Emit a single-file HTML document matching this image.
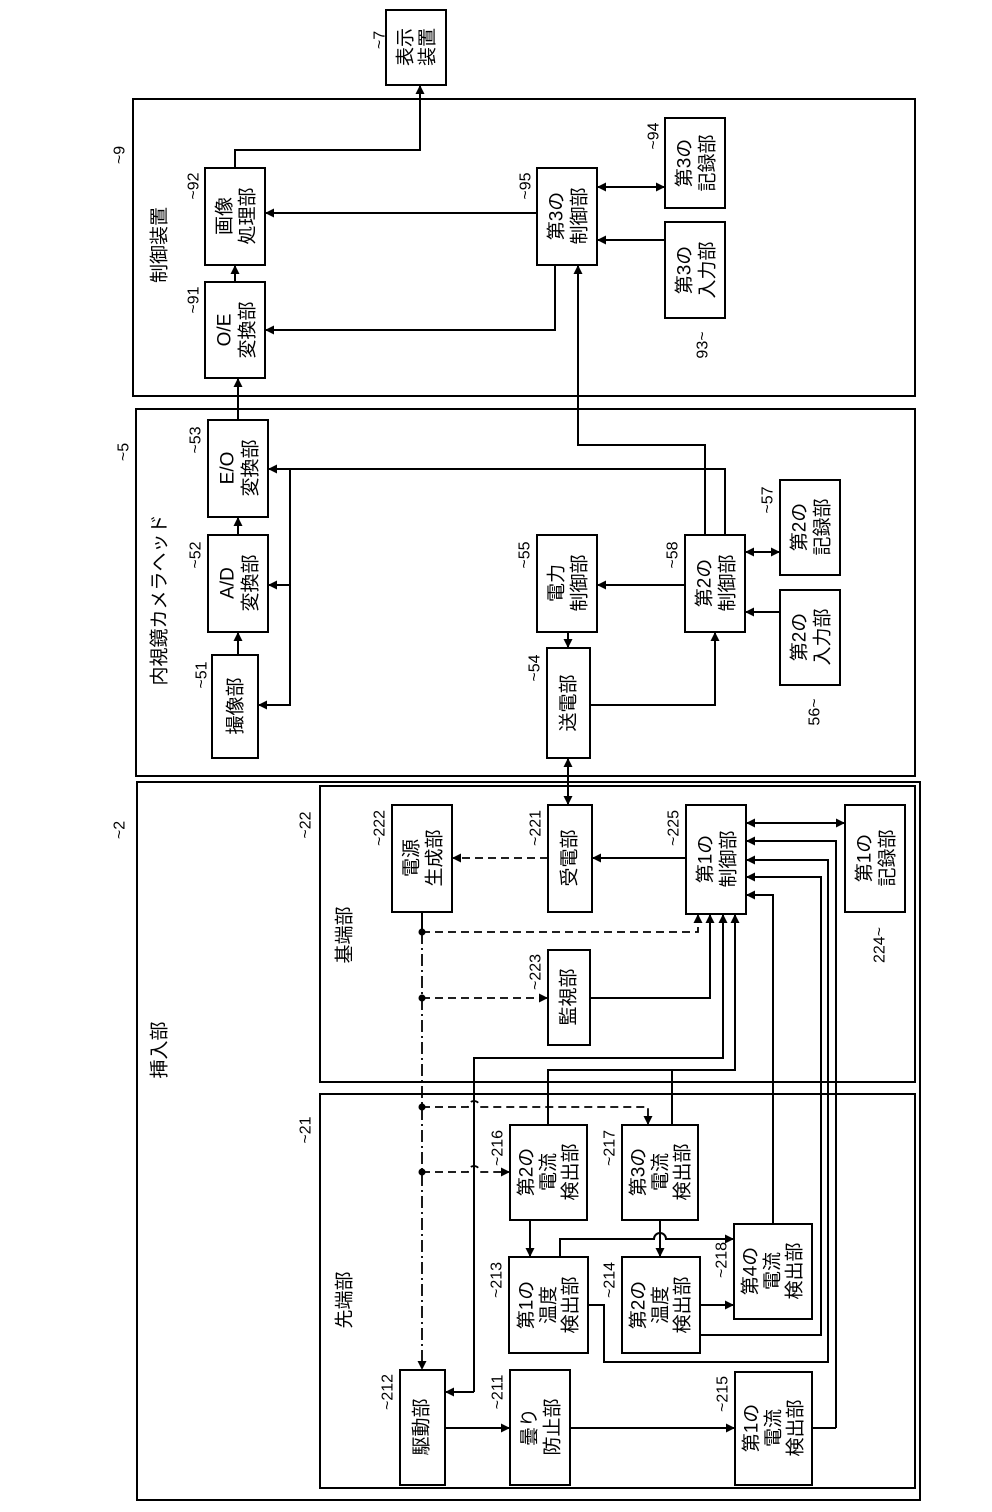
<!DOCTYPE html>
<html><head><meta charset="utf-8"><style>
html,body{margin:0;padding:0;background:#fff}
svg{display:block}
text{font-family:"Liberation Sans","Noto Sans CJK JP",sans-serif;fill:#000}
.b{font-size:19px}
.l{font-size:16px}
</style></head><body>
<svg width="992" height="1512" viewBox="0 0 992 1512" xmlns="http://www.w3.org/2000/svg">
<defs>
<marker id="a" viewBox="0 0 10 10" refX="10" refY="5" markerWidth="9" markerHeight="9" markerUnits="userSpaceOnUse" orient="auto-start-reverse"><path d="M0,0L10,5L0,10z" fill="#000"/></marker>
</defs>
<g fill="none" stroke="#000" stroke-width="2">
<rect x="133" y="99" width="782" height="297"/>
<rect x="136" y="409" width="779" height="367"/>
<rect x="137" y="782" width="783" height="718"/>
<rect x="320" y="786" width="595" height="296"/>
<rect x="320" y="1094" width="595" height="394"/>
<rect x="386" y="10" width="60" height="75"/>
<rect x="205" y="168" width="60" height="97"/>
<rect x="205" y="282" width="60" height="96"/>
<rect x="537" y="168" width="60" height="97"/>
<rect x="665" y="118" width="60" height="90"/>
<rect x="665" y="222" width="60" height="96"/>
<rect x="208" y="420" width="60" height="97"/>
<rect x="208" y="535" width="60" height="97"/>
<rect x="212" y="655" width="46" height="103"/>
<rect x="537" y="535" width="60" height="97"/>
<rect x="547" y="648" width="43" height="110"/>
<rect x="685" y="535" width="60" height="97"/>
<rect x="780" y="480" width="60" height="95"/>
<rect x="780" y="590" width="60" height="95"/>
<rect x="392" y="805" width="60" height="107"/>
<rect x="548" y="805" width="44" height="107"/>
<rect x="686" y="805" width="60" height="109"/>
<rect x="845" y="805" width="60" height="107"/>
<rect x="548" y="950" width="42" height="95"/>
<rect x="510" y="1125" width="77" height="95"/>
<rect x="622" y="1125" width="76" height="95"/>
<rect x="509" y="1257" width="79" height="96"/>
<rect x="622" y="1257" width="78" height="96"/>
<rect x="734" y="1224" width="78" height="95"/>
<rect x="400" y="1370" width="45" height="115"/>
<rect x="510" y="1370" width="60" height="115"/>
<rect x="735" y="1372" width="77" height="113"/>
</g>
<g fill="none" stroke="#000" stroke-width="2">
<polyline points="235,168 235,150 420,150 420,85" marker-end="url(#a)"/>
<line x1="235" y1="282" x2="235" y2="265" marker-end="url(#a)"/>
<line x1="238" y1="420" x2="238" y2="378" marker-end="url(#a)"/>
<line x1="537" y1="213" x2="265" y2="213" marker-end="url(#a)"/>
<polyline points="555,265 555,330 265,330" marker-end="url(#a)"/>
<line x1="597" y1="187" x2="665" y2="187" marker-start="url(#a)" marker-end="url(#a)"/>
<line x1="665" y1="240" x2="597" y2="240" marker-end="url(#a)"/>
<polyline points="705,535 705,445 578,445 578,265" marker-end="url(#a)"/>
<line x1="238" y1="535" x2="238" y2="517" marker-end="url(#a)"/>
<line x1="238" y1="655" x2="238" y2="632" marker-end="url(#a)"/>
<polyline points="725,535 725,469 268,469" marker-end="url(#a)"/>
<polyline points="290,469 290,705 258,705" marker-end="url(#a)"/>
<line x1="290" y1="585" x2="268" y2="585" marker-end="url(#a)"/>
<line x1="685" y1="585" x2="597" y2="585" marker-end="url(#a)"/>
<line x1="568" y1="632" x2="568" y2="648" marker-end="url(#a)"/>
<polyline points="590,705 715,705 715,632" marker-end="url(#a)"/>
<line x1="745" y1="552" x2="780" y2="552" marker-start="url(#a)" marker-end="url(#a)"/>
<line x1="780" y1="612" x2="745" y2="612" marker-end="url(#a)"/>
<line x1="568" y1="758" x2="568" y2="805" marker-start="url(#a)" marker-end="url(#a)"/>
<line x1="686" y1="858" x2="592" y2="858" marker-end="url(#a)"/>
<line x1="746" y1="823" x2="845" y2="823" marker-start="url(#a)" marker-end="url(#a)"/>
<line x1="422" y1="912" x2="422" y2="932"/>
<polyline points="590,998 710,998 710,914" marker-end="url(#a)"/>
<polyline points="474,1392 474,1058 723,1058 723,914" marker-end="url(#a)"/>
<line x1="474" y1="1392" x2="445" y2="1392" marker-end="url(#a)"/>
<polyline points="548,1125 548,1070 735,1070 735,914" marker-end="url(#a)"/>
<line x1="672" y1="1125" x2="672" y2="1070"/>
<polyline points="836,1428 836,841 746,841" marker-end="url(#a)"/>
<polyline points="588,1305 604,1305 604,1362 828,1362 828,860 746,860" marker-end="url(#a)"/>
<polyline points="700,1335 821,1335 821,877 746,877" marker-end="url(#a)"/>
<polyline points="773,1224 773,895 746,895" marker-end="url(#a)"/>
<line x1="530" y1="1220" x2="530" y2="1257" marker-end="url(#a)"/>
<line x1="660" y1="1220" x2="660" y2="1257" marker-end="url(#a)"/>
<path d="M560,1257 V1239 H654 A6,6 0 0 1 666,1239 H734" marker-end="url(#a)"/>
<line x1="700" y1="1305" x2="734" y2="1305" marker-end="url(#a)"/>
<line x1="445" y1="1428" x2="510" y2="1428" marker-end="url(#a)"/>
<line x1="570" y1="1428" x2="735" y2="1428" marker-end="url(#a)"/>
<line x1="812" y1="1428" x2="836" y2="1428"/>
</g>
<g fill="none" stroke="#000" stroke-width="1.8" stroke-dasharray="8,5">
<line x1="548" y1="858" x2="452" y2="858" marker-end="url(#a)"/>
<polyline points="422,932 698,932 698,914" marker-end="url(#a)"/>
<line x1="422" y1="998" x2="548" y2="998" marker-end="url(#a)"/>
<path d="M422,1107 H468 A6,6 0 0 1 480,1107 H648 V1125" marker-end="url(#a)"/>
<path d="M422,1172 H468 A6,6 0 0 1 480,1172 H510" marker-end="url(#a)"/>
</g>
<line x1="422" y1="932" x2="422" y2="1370" stroke="#000" stroke-width="1.8" stroke-dasharray="12,4,2,4" marker-end="url(#a)"/>
<g fill="#000"><circle cx="422" cy="932" r="3.5"/><circle cx="422" cy="998" r="3.5"/><circle cx="422" cy="1107" r="3.5"/><circle cx="422" cy="1172" r="3.5"/></g>

<g class="b" text-anchor="middle" dominant-baseline="central">
<text transform="translate(406,47) rotate(-90)">表示</text><text transform="translate(428,47) rotate(-90)">装置</text>
<text transform="translate(225,216) rotate(-90)">画像</text><text transform="translate(248,216) rotate(-90)">処理部</text>
<text transform="translate(225,330) rotate(-90)">O/E</text><text transform="translate(248,330) rotate(-90)">変換部</text>
<text transform="translate(557,216) rotate(-90)">第3の</text><text transform="translate(580,216) rotate(-90)">制御部</text>
<text transform="translate(685,163) rotate(-90)">第3の</text><text transform="translate(708,163) rotate(-90)">記録部</text>
<text transform="translate(685,270) rotate(-90)">第3の</text><text transform="translate(708,270) rotate(-90)">入力部</text>
<text transform="translate(228,468) rotate(-90)">E/O</text><text transform="translate(251,468) rotate(-90)">変換部</text>
<text transform="translate(228,583) rotate(-90)">A/D</text><text transform="translate(251,583) rotate(-90)">変換部</text>
<text transform="translate(236,706) rotate(-90)">撮像部</text>
<text transform="translate(557,583) rotate(-90)">電力</text><text transform="translate(580,583) rotate(-90)">制御部</text>
<text transform="translate(569,703) rotate(-90)">送電部</text>
<text transform="translate(705,583) rotate(-90)">第2の</text><text transform="translate(728,583) rotate(-90)">制御部</text>
<text transform="translate(800,527) rotate(-90)">第2の</text><text transform="translate(823,527) rotate(-90)">記録部</text>
<text transform="translate(800,637) rotate(-90)">第2の</text><text transform="translate(823,637) rotate(-90)">入力部</text>
<text transform="translate(412,858) rotate(-90)">電源</text><text transform="translate(435,858) rotate(-90)">生成部</text>
<text transform="translate(570,858) rotate(-90)">受電部</text>
<text transform="translate(706,859) rotate(-90)">第1の</text><text transform="translate(729,859) rotate(-90)">制御部</text>
<text transform="translate(865,858) rotate(-90)">第1の</text><text transform="translate(888,858) rotate(-90)">記録部</text>
<text transform="translate(569,997) rotate(-90)">監視部</text>
<text transform="translate(527,1172) rotate(-90)">第2の</text><text transform="translate(549,1172) rotate(-90)">電流</text><text transform="translate(571,1172) rotate(-90)">検出部</text>
<text transform="translate(639,1172) rotate(-90)">第3の</text><text transform="translate(661,1172) rotate(-90)">電流</text><text transform="translate(683,1172) rotate(-90)">検出部</text>
<text transform="translate(527,1305) rotate(-90)">第1の</text><text transform="translate(549,1305) rotate(-90)">温度</text><text transform="translate(571,1305) rotate(-90)">検出部</text>
<text transform="translate(639,1305) rotate(-90)">第2の</text><text transform="translate(661,1305) rotate(-90)">温度</text><text transform="translate(683,1305) rotate(-90)">検出部</text>
<text transform="translate(751,1271) rotate(-90)">第4の</text><text transform="translate(773,1271) rotate(-90)">電流</text><text transform="translate(795,1271) rotate(-90)">検出部</text>
<text transform="translate(422,1427) rotate(-90)">駆動部</text>
<text transform="translate(530,1427) rotate(-90)">曇り</text><text transform="translate(553,1427) rotate(-90)">防止部</text>
<text transform="translate(752,1428) rotate(-90)">第1の</text><text transform="translate(774,1428) rotate(-90)">電流</text><text transform="translate(796,1428) rotate(-90)">検出部</text>
<text transform="translate(160,245) rotate(-90)">制御装置</text>
<text transform="translate(160,600) rotate(-90)">内視鏡カメラヘッド</text>
<text transform="translate(160,1050) rotate(-90)">挿入部</text>
<text transform="translate(345,935) rotate(-90)">基端部</text>
<text transform="translate(345,1300) rotate(-90)">先端部</text>
</g>
<g class="l" text-anchor="middle" dominant-baseline="central">
<text transform="translate(380,40) rotate(-90)">~7</text>
<text transform="translate(120,155) rotate(-90)">~9</text>
<text transform="translate(194,186) rotate(-90)">~92</text>
<text transform="translate(194,300) rotate(-90)">~91</text>
<text transform="translate(526,186) rotate(-90)">~95</text>
<text transform="translate(654,136) rotate(-90)">~94</text>
<text transform="translate(703,345) rotate(-90)">93~</text>
<text transform="translate(124,452) rotate(-90)">~5</text>
<text transform="translate(196,440) rotate(-90)">~53</text>
<text transform="translate(196,555) rotate(-90)">~52</text>
<text transform="translate(202,675) rotate(-90)">~51</text>
<text transform="translate(525,555) rotate(-90)">~55</text>
<text transform="translate(535,668) rotate(-90)">~54</text>
<text transform="translate(673,555) rotate(-90)">~58</text>
<text transform="translate(768,500) rotate(-90)">~57</text>
<text transform="translate(815,712) rotate(-90)">56~</text>
<text transform="translate(120,830) rotate(-90)">~2</text>
<text transform="translate(306,825) rotate(-90)">~22</text>
<text transform="translate(306,1130) rotate(-90)">~21</text>
<text transform="translate(380,828) rotate(-90)">~222</text>
<text transform="translate(536,828) rotate(-90)">~221</text>
<text transform="translate(674,828) rotate(-90)">~225</text>
<text transform="translate(880,945) rotate(-90)">224~</text>
<text transform="translate(536,972) rotate(-90)">~223</text>
<text transform="translate(498,1148) rotate(-90)">~216</text>
<text transform="translate(610,1148) rotate(-90)">~217</text>
<text transform="translate(497,1280) rotate(-90)">~213</text>
<text transform="translate(610,1280) rotate(-90)">~214</text>
<text transform="translate(722,1260) rotate(-90)">~218</text>
<text transform="translate(388,1392) rotate(-90)">~212</text>
<text transform="translate(498,1392) rotate(-90)">~211</text>
<text transform="translate(723,1394) rotate(-90)">~215</text>
</g>
</svg>
</body></html>
